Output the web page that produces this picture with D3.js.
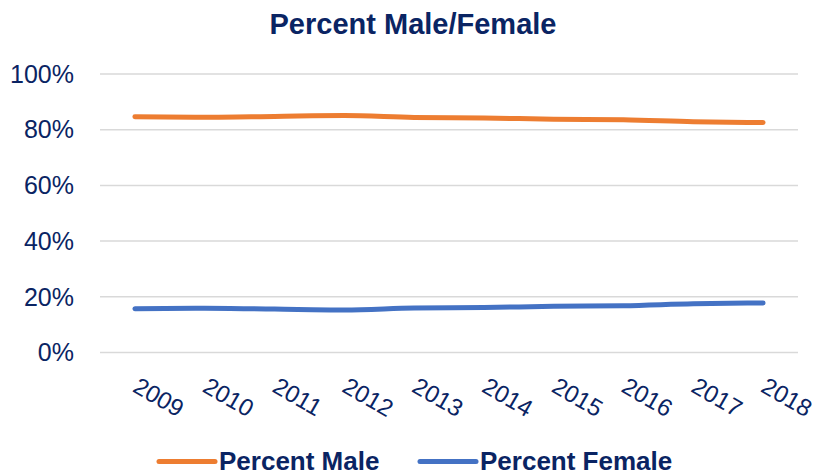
<!DOCTYPE html>
<html>
<head>
<meta charset="utf-8">
<script src="https://cdn.jsdelivr.net/npm/d3@7"></script>
<style>
  html, body { margin: 0; padding: 0; background: #fff; }
  svg { display: block; font-family: "Liberation Sans", Arial, sans-serif; }
</style>
</head>
<body>
<svg id="chart" width="817" height="475"></svg>
<script>
const years = ["2009","2010","2011","2012","2013","2014","2015","2016","2017","2018"];
const percentMale   = [84.5, 84.3, 84.6, 84.9, 84.2, 84.0, 83.6, 83.4, 82.7, 82.4];
const percentFemale = [15.5, 15.7, 15.4, 15.1, 15.8, 16.0, 16.4, 16.6, 17.3, 17.6];
const yTicks = [0, 20, 40, 60, 80, 100];
const seriesNames = ["Percent Male", "Percent Female"];
const seriesColors = ["#ED7D31", "#4472C4"];

const navy = "#0a2463";
const svg = d3.select("#chart");

const x = d3.scalePoint().domain(years).range([100, 798]).padding(0.5);
const y = d3.scaleLinear().domain([0, 100]).range([352, 73.5]);

// Title
svg.append("text")
  .attr("x", 413).attr("y", 34)
  .attr("text-anchor", "middle")
  .attr("font-size", 29).attr("font-weight", "bold")
  .attr("fill", navy)
  .text("Percent Male/Female");

// Y axis with gridlines
const yAxis = d3.axisLeft(y).tickValues(yTicks).tickFormat(d => d + "%").tickSize(0).tickPadding(0);
const gy = svg.append("g").attr("transform", "translate(74,0)").call(yAxis);
gy.select(".domain").remove();
gy.selectAll("text").attr("font-size", 25).attr("fill", navy)
  .attr("font-family", "Liberation Sans, Arial, sans-serif").attr("dy", "0.35em");

const grid = d3.axisLeft(y).tickValues(yTicks).tickSize(-698).tickFormat("");
const gg = svg.append("g").attr("transform", "translate(100,0)").call(grid);
gg.select(".domain").remove();
gg.selectAll("line").attr("stroke", "#d9d9d9").attr("stroke-width", 1.5);

// X axis labels
const xAxis = d3.axisBottom(x).tickSize(0).tickPadding(0);
const gx = svg.append("g").attr("transform", "translate(0,352)").call(xAxis);
gx.select(".domain").remove();
gx.selectAll("text")
  .attr("font-size", 24).attr("fill", navy)
  .attr("font-family", "Liberation Sans, Arial, sans-serif")
  .attr("text-anchor", "start")
  .attr("dy", null)
  .attr("y", null)
  .attr("transform", "translate(-4,39) rotate(30)");

// Lines
const line = d3.line()
  .x((d, i) => x(years[i]))
  .y(d => y(d))
  .curve(d3.curveMonotoneX);

[percentMale, percentFemale].forEach((vals, k) => {
  svg.append("path")
    .datum(vals)
    .attr("d", line)
    .attr("fill", "none")
    .attr("stroke", seriesColors[k])
    .attr("stroke-width", 5)
    .attr("stroke-linecap", "round")
    .attr("stroke-linejoin", "round");
});

// Legend
const legendX = [159, 420];
seriesNames.forEach((name, k) => {
  const g = svg.append("g").attr("transform", `translate(${legendX[k]},461.5)`);
  g.append("line").attr("x1", 0).attr("x2", 56).attr("y1", 0).attr("y2", 0)
    .attr("stroke", seriesColors[k]).attr("stroke-width", 5).attr("stroke-linecap", "round");
  g.append("text").attr("x", 60).attr("y", 8.5)
    .attr("font-size", 26).attr("font-weight", "bold").attr("fill", navy)
    .text(name);
});
</script>
</body>
</html>
